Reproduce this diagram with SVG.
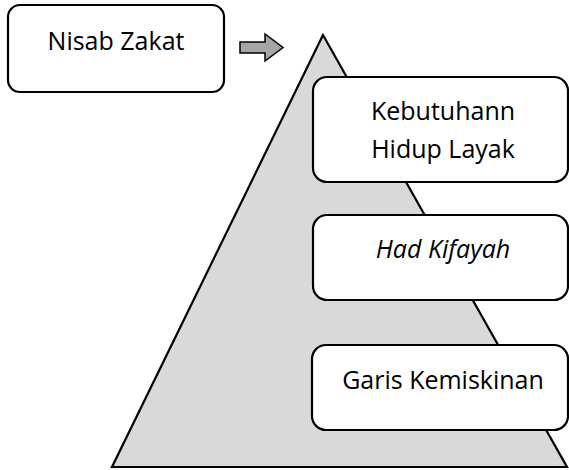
<svg xmlns="http://www.w3.org/2000/svg" width="569" height="470" viewBox="0 0 569 470">
<style>
.box{fill:#fff;stroke:#000;stroke-width:2.2}
.t{font-family:"Open Sans","Liberation Sans",sans-serif;font-size:25px;fill:#000;text-anchor:middle}
</style>
<rect width="569" height="470" fill="#fff"/>
<g id="pyramid">
<polygon points="323,35 112,467 567,467" fill="#d9d9d9" stroke="#000" stroke-width="2.2" stroke-linejoin="miter"/>
</g>
<g id="nisab">
<rect class="box" x="8" y="5" width="216" height="87" rx="12"/>
<text class="t" x="116" y="50">Nisab Zakat</text>
</g>
<g id="connectors">
<polygon points="240,42 265,42 265,34 283,47.5 265,61 265,53 240,53" fill="#a6a6a6" stroke="#000" stroke-width="1.5"/>
</g>
<g id="kebutuhan">
<rect class="box" x="313" y="77" width="255" height="105" rx="14"/>
<text class="t" x="443" y="120">Kebutuhann</text>
<text class="t" x="443" y="158">Hidup Layak</text>
</g>
<g id="had">
<rect class="box" x="313" y="215" width="255" height="85" rx="14"/>
<text class="t" x="443" y="258" font-style="italic">Had Kifayah</text>
</g>
<g id="garis">
<rect class="box" x="312" y="345" width="256" height="85" rx="14"/>
<text class="t" x="443" y="389">Garis Kemiskinan</text>
</g>
</svg>
